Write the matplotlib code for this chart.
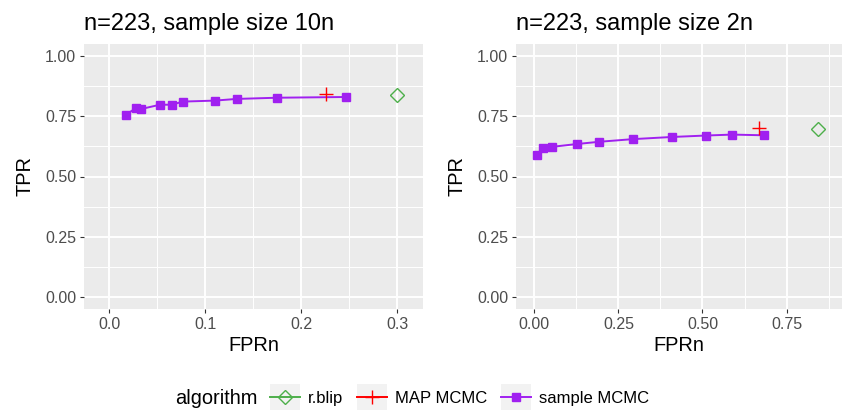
#TPR vs FPRn for r.blip, MAP MCMC and sample MCMC, two sample sizes
import matplotlib
matplotlib.use('Agg')
import matplotlib.pyplot as plt
from matplotlib.lines import Line2D
from matplotlib.patches import Rectangle
from matplotlib.legend_handler import HandlerLine2D
from matplotlib.ticker import MultipleLocator

plt.rcParams['font.family'] = ['Liberation Sans', 'DejaVu Sans']

#Values
titles = ['n=223, sample size 10n', 'n=223, sample size 2n']

left_sample_fpr = [0.017, 0.0275, 0.033, 0.0528, 0.065, 0.0768, 0.1098, 0.1327, 0.1747, 0.2462]
left_sample_tpr = [0.756, 0.783, 0.780, 0.798, 0.798, 0.811, 0.815, 0.822, 0.827, 0.830]
left_map_fpr = [0.2254]
left_map_tpr = [0.841]
left_rblip_fpr = [0.2993]
left_rblip_tpr = [0.838]

right_sample_fpr = [0.007, 0.027, 0.052, 0.128, 0.192, 0.292, 0.408, 0.509, 0.588, 0.684]
right_sample_tpr = [0.590, 0.620, 0.623, 0.635, 0.644, 0.655, 0.664, 0.670, 0.674, 0.671]
right_map_fpr = [0.669]
right_map_tpr = [0.702]
right_rblip_fpr = [0.844]
right_rblip_tpr = [0.696]

algorithms = ['r.blip', 'MAP MCMC', 'sample MCMC']
colors = {'r.blip': '#4DAF4A', 'MAP MCMC': '#FF0000', 'sample MCMC': '#A020F0'}

y_ticks = [0.00, 0.25, 0.50, 0.75, 1.00]
left_x_ticks = [0.0, 0.1, 0.2, 0.3]
right_x_ticks = [0.00, 0.25, 0.50, 0.75]

W, H = 848, 413
fig = plt.figure(figsize=(W/100, H/100), dpi=100)

def px_axes(x0, y0, x1, y1):
    return fig.add_axes([x0/W, 1-y1/H, (x1-x0)/W, (y1-y0)/H])

ax1 = px_axes(84, 44, 423, 309)
ax2 = px_axes(516, 44, 842, 309)

panels = [
    (ax1, left_sample_fpr, left_sample_tpr, left_map_fpr, left_map_tpr, left_rblip_fpr, left_rblip_tpr,
     left_x_ticks, '%.1f', 0.05, (-0.02635, 0.3268)),
    (ax2, right_sample_fpr, right_sample_tpr, right_map_fpr, right_map_tpr, right_rblip_fpr, right_rblip_tpr,
     right_x_ticks, '%.2f', 0.125, (-0.0544, 0.9147)),
]

for i, (ax, sx, sy, mx, my, rx, ry, xt, fmt, xminor, xlim) in enumerate(panels):
    ax.set_facecolor('#EBEBEB')
    for s in ax.spines.values():
        s.set_visible(False)
    ax.set_axisbelow(True)
    ax.grid(which='major', color='white', linewidth=1.4)
    ax.grid(which='minor', color='white', linewidth=0.7)

    ax.plot(sx, sy, color=colors['sample MCMC'], linewidth=1.4, marker='s', markersize=6, zorder=3)
    ax.plot(mx, my, linestyle='none', color=colors['MAP MCMC'], marker='+', markersize=10.5,
            markeredgewidth=1.0, zorder=4)
    ax.plot(rx, ry, linestyle='none', color=colors['r.blip'], marker='D', markersize=7,
            markerfacecolor='none', markeredgewidth=1.0, zorder=4)

    ax.set_xlim(*xlim)
    ax.set_ylim(-0.05, 1.05)
    ax.set_xticks(xt)
    ax.set_xticklabels([fmt % v for v in xt])
    ax.set_yticks(y_ticks)
    ax.set_yticklabels(['%.2f' % v for v in y_ticks])
    ax.xaxis.set_minor_locator(MultipleLocator(xminor))
    ax.yaxis.set_minor_locator(MultipleLocator(0.125))
    ax.tick_params(which='major', length=3, width=0.8, color='#333333', labelcolor='#4D4D4D',
                   labelsize=11.5, pad=2.5)
    ax.tick_params(which='minor', length=0)

    ax.set_title(titles[i], loc='left', fontsize=17, pad=10)
    ax.set_xlabel('FPRn', fontsize=14.4, labelpad=3)
    ax.set_ylabel('TPR', fontsize=14.4, labelpad=8)

#Legend keys with a grey box behind, as in ggplot
class KeyHandler(HandlerLine2D):
    def create_artists(self, legend, orig_handle, xdescent, ydescent, width, height, fontsize, trans):
        bg = Rectangle((-xdescent, -ydescent - 4), width, height + 8, facecolor='#F2F2F2',
                       edgecolor='none', transform=trans)
        arts = super().create_artists(legend, orig_handle, xdescent, ydescent, width, height,
                                      fontsize, trans)
        return [bg] + list(arts)

handles = [
    Line2D([], [], color=colors['r.blip'], marker='D', markersize=7, markerfacecolor='none',
           markeredgewidth=1.0, linewidth=1.4),
    Line2D([], [], color=colors['MAP MCMC'], marker='+', markersize=10.5, markeredgewidth=1.0,
           linewidth=1.4),
    Line2D([], [], color=colors['sample MCMC'], marker='s', markersize=6, linewidth=1.4),
]
fig.text(175/W, 1-398/H, 'algorithm', fontsize=14.4, va='center', ha='left')
leg = fig.legend(handles, algorithms, loc='center left', bbox_to_anchor=(270/W, 1-398/H), ncol=3,
                 frameon=False, fontsize=12, handlelength=1.8, handleheight=1.0,
                 handletextpad=0.5, columnspacing=0.8, borderpad=0, borderaxespad=0,
                 handler_map={Line2D: KeyHandler(numpoints=1)})

fig.savefig('out.png', dpi=100)
